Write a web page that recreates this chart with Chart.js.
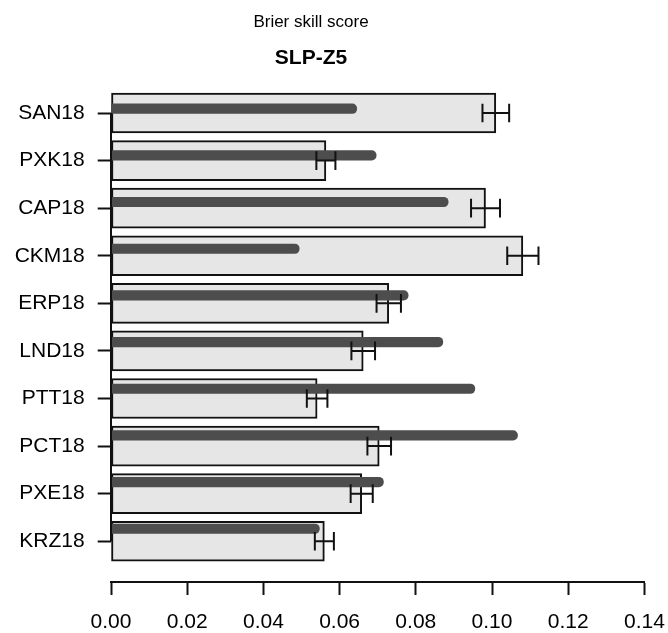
<!DOCTYPE html>
<html>
<head>
<meta charset="utf-8">
<script src="https://cdn.jsdelivr.net/npm/chart.js@4.4.0/dist/chart.umd.min.js"></script>
<style>
  html, body { margin: 0; padding: 0; background: #fff; }
  #c { display: block; }
</style>
</head>
<body>
<canvas id="c" width="668" height="633"></canvas>
<script>
// Stations, top to bottom
const stations = ['SAN18', 'PXK18', 'CAP18', 'CKM18', 'ERP18', 'LND18', 'PTT18', 'PCT18', 'PXE18', 'KRZ18'];
// Mean Brier skill score (light bars) and its uncertainty (error bars)
const bssMean = [0.1010, 0.0564, 0.0983, 0.1081, 0.0729, 0.0662, 0.0541, 0.0704, 0.0658, 0.0560];
const bssErr  = [0.0035, 0.0025, 0.0038, 0.0041, 0.0032, 0.0031, 0.0027, 0.0031, 0.0029, 0.0025];
// Reference score (dark inner bars)
const bssRef  = [0.0645, 0.0696, 0.0885, 0.0494, 0.0780, 0.0871, 0.0955, 0.1067, 0.0715, 0.0547];
// x-axis tick values
const xTicks = [0.00, 0.02, 0.04, 0.06, 0.08, 0.10, 0.12, 0.14];

const titleText = 'Brier skill score';
const subtitleText = 'SLP-Z5';

const FONT = '"Liberation Sans", Arial, Helvetica, sans-serif';
const INK = '#111';

// Error bars, the left axis line and the two title lines
const extras = {
  id: 'extras',
  afterDatasetsDraw(chart) {
    const { ctx, scales: { x, y } } = chart;
    ctx.save();
    ctx.strokeStyle = INK;
    ctx.lineWidth = 2;
    ctx.lineCap = 'butt';
    bssMean.forEach((m, i) => {
      const py = y.getPixelForValue(i);
      const x0 = x.getPixelForValue(m - bssErr[i]);
      const x1 = x.getPixelForValue(m + bssErr[i]);
      const cap = 9.3;
      ctx.beginPath();
      ctx.moveTo(x0, py); ctx.lineTo(x1, py);
      ctx.moveTo(x0, py - cap); ctx.lineTo(x0, py + cap);
      ctx.moveTo(x1, py - cap); ctx.lineTo(x1, py + cap);
      ctx.stroke();
    });
    // left axis line spans first to last category
    ctx.beginPath();
    const ax = chart.chartArea.left;
    ctx.moveTo(ax, y.getPixelForValue(0));
    ctx.lineTo(ax, y.getPixelForValue(stations.length - 1));
    ctx.stroke();
    ctx.restore();
  },
  afterDraw(chart) {
    const { ctx } = chart;
    ctx.save();
    ctx.fillStyle = '#000';
    ctx.textAlign = 'center';
    ctx.textBaseline = 'alphabetic';
    ctx.font = '17px ' + FONT;
    ctx.fillText(titleText, 311, 27);
    ctx.font = 'bold 21px ' + FONT;
    ctx.fillText(subtitleText, 311, 64);
    ctx.restore();
  }
};

new Chart(document.getElementById('c'), {
  type: 'bar',
  data: {
    datasets: [
      {
        label: 'reference',
        data: bssRef.map((v, i) => ({ x: v, y: i })),
        yAxisID: 'y2',
        grouped: false,
        backgroundColor: '#4d4d4d',
        borderWidth: 0,
        barThickness: 9.5,
        maxBarThickness: 9.5,
        borderRadius: 4.75,
        order: 0
      },
      {
        label: 'mean',
        data: bssMean.map((v, i) => ({ x: v, y: i })),
        yAxisID: 'y',
        grouped: false,
        backgroundColor: '#e6e6e6',
        borderColor: INK,
        borderWidth: 2,
        borderSkipped: false,
        barThickness: 40,
        maxBarThickness: 40,
        order: 1
      }
    ]
  },
  options: {
    indexAxis: 'y',
    responsive: false,
    animation: false,
    devicePixelRatio: 1,
    layout: { padding: { top: 79.7, right: 23.6, bottom: 0, left: 0 } },
    plugins: {
      legend: { display: false },
      tooltip: { enabled: false },
      title: { display: false }
    },
    scales: {
      x: {
        type: 'linear',
        min: 0,
        max: 0.14,
        offset: false,
        afterBuildTicks: (s) => { s.ticks = xTicks.map(v => ({ value: v })); },
        afterFit: (s) => { s.height = 633 - 581.7; s.paddingLeft = 0; s.paddingRight = 0; },
        ticks: {
          callback: (v) => Number(v).toFixed(2),
          font: { family: FONT, size: 21 },
          color: '#000',
          padding: 15,
          maxRotation: 0,
          autoSkip: false
        },
        grid: {
          display: true,
          offset: false,
          drawOnChartArea: false,
          drawTicks: true,
          tickLength: 13.3,
          tickWidth: 2,
          tickColor: INK
        },
        border: { display: true, color: INK, width: 2 }
      },
      y: {
        type: 'linear',
        reverse: true,
        offset: false,
        min: -0.7,
        max: 9.85,
        afterBuildTicks: (s) => { s.ticks = stations.map((_, i) => ({ value: i })); },
        afterFit: (s) => { s.width = 111; s.paddingTop = 0; s.paddingBottom = 0; },
        ticks: {
          callback: (v) => stations[v],
          font: { family: FONT, size: 21 },
          color: '#000',
          padding: 13,
          autoSkip: false
        },
        grid: {
          display: true,
          offset: false,
          drawOnChartArea: false,
          drawTicks: true,
          tickLength: 13.3,
          tickWidth: 2,
          tickColor: INK
        },
        border: { display: false }
      },
      y2: {
        type: 'linear',
        display: false,
        reverse: true,
        offset: false,
        grid: { offset: false },
        min: -0.6214,
        max: 10.135
      }
    }
  },
  plugins: [extras]
});
</script>
</body>
</html>
